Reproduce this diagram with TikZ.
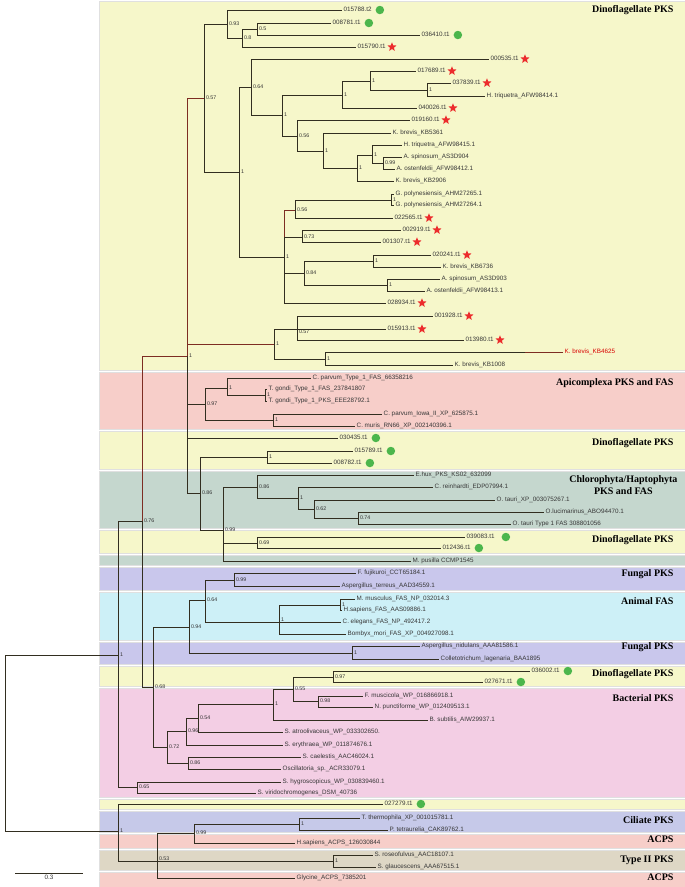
\documentclass[tikz,border=0pt]{standalone}
\usepackage{fontspec}
\setmainfont{Liberation Serif}
\setsansfont{Liberation Sans}
\usetikzlibrary{positioning, shapes.geometric}

\definecolor{dinoyel}{RGB}{246,247,202}
\definecolor{apisalmon}{RGB}{247,206,201}
\definecolor{chlgreen}{RGB}{197,215,206}
\definecolor{funglav}{RGB}{201,199,236}
\definecolor{animcyan}{RGB}{205,240,247}
\definecolor{bactpink}{RGB}{243,206,228}
\definecolor{cilblue}{RGB}{198,201,233}
\definecolor{typebeige}{RGB}{222,215,197}
\definecolor{branch}{RGB}{50,46,32}
\definecolor{redbranch}{RGB}{125,45,35}
\definecolor{dotgreen}{RGB}{76,182,76}
\definecolor{starred}{RGB}{236,44,44}
\definecolor{labelgray}{RGB}{55,55,55}

\begin{document}
\begin{tikzpicture}[x=1pt, y=-1pt,
  band/.style={draw=black!12, line width=0.4pt},
  br/.style={draw=branch, line width=0.8pt},
  hl/.style={draw=redbranch},
  elbow/.style={to path={|- (\tikztotarget)}},
  leaf/.style={anchor=west, inner xsep=1.5pt, inner ysep=0.5pt, text=labelgray,
               text height=4.7pt, text depth=0.8pt, font=\sffamily\fontsize{6.3}{7}\selectfont},
  bs/.style={anchor=west, inner xsep=1.8pt, inner ysep=0.5pt, text=black!80,
             font=\sffamily\fontsize{5.3}{6}\selectfont},
  clade/.style={anchor=east, align=center, font=\bfseries\fontsize{10}{12}\selectfont},
  gdot/.style={circle, fill=dotgreen, inner sep=0pt, minimum size=8.5pt},
  rstar/.style={star, star points=5, star point ratio=2.3, fill=starred,
                inner sep=0pt, minimum size=9.5pt}
]
  \useasboundingbox (0,0) rectangle (685,887);

  % Coloured bands
  \fill[dinoyel, band]   (99,1)   rectangle (685,370);
  \fill[apisalmon, band] (99,372) rectangle (685,429);
  \fill[dinoyel, band]   (99,431) rectangle (685,469);
  \fill[chlgreen, band]  (99,471) rectangle (685,528);
  \fill[dinoyel, band]   (99,530) rectangle (685,553);
  \fill[chlgreen, band]  (99,555) rectangle (685,565);
  \fill[funglav, band]   (99,567) rectangle (685,590);
  \fill[animcyan, band]  (99,592) rectangle (685,640);
  \fill[funglav, band]   (99,642) rectangle (685,664);
  \fill[dinoyel, band]   (99,666) rectangle (685,686);
  \fill[bactpink, band]  (99,688) rectangle (685,797);
  \fill[dinoyel, band]   (99,799) rectangle (685,809);
  \fill[cilblue, band]   (99,811) rectangle (685,832);
  \fill[apisalmon, band] (99,834) rectangle (685,848);
  \fill[typebeige, band] (99,850) rectangle (685,870);
  \fill[apisalmon, band] (99,872) rectangle (685,887);

  % Band titles
  \node[clade] (t1)  at (677,10)  {Dinoflagellate PKS};
  \node[clade] (t2)  at (677,383) {Apicomplexa PKS and FAS};
  \node[clade] (t3)  at (677,443) {Dinoflagellate PKS};
  \node[clade] (t4)  at (681,485) {Chlorophyta/Haptophyta\\PKS and FAS};
  \node[clade] (t5)  at (677,540) {Dinoflagellate PKS};
  \node[clade] (t6)  at (677,574) {Fungal PKS};
  \node[clade] (t7)  at (677,601) {Animal FAS};
  \node[clade] (t8)  at (677,647) {Fungal PKS};
  \node[clade] (t9)  at (677,674) {Dinoflagellate PKS};
  \node[clade] (t10) at (677,698) {Bacterial PKS};
  \node[clade] (t11) at (677,820) {Ciliate PKS};
  \node[clade] (t12) at (677,839) {ACPS};
  \node[clade] (t13) at (677,860) {Type II PKS};
  \node[clade] (t14) at (677,877) {ACPS};

  % Internal nodes with support values
  \coordinate (root) at (5,743);
  \foreach \n/\x/\y/\v in {
      n1/227/24/0.93, n2/242/38/0.8, n3/257/29/0.5, n4/204/98/0.57,
      n5/239/172/1, n6/251/87/0.64, n7/282/115/1, n8/342/95/1, n9/370/81/1,
      n9b/427/90/1, n10/297/136/0.56, n11/323/151/1, n12/357/168/1,
      n12a/372/155/1, n12b/383/163/0.99, n13/284/257/1, n14/295/210/0.56,
      ngp/391/200/1, n15/302/237/0.73, n16/304/273/0.84, n16a/373/261/1,
      n16b/387/285/1, n17/187/356/1, n18/274/344/1, n19b/325/359/1,
      n20/205/404/0.97, n21/227/388/1, ntg/265/395/1, n22/273/420/1,
      n24/200/493/0.86, n25/267/457/1, n26/223/530/0.99, n27/257/487/0.86,
      n28/298/498/1, n29/314/509/0.62, n30/358/518/0.74, n31/257/543/0.69,
      n32/142/521/0.76, n33/153/687/0.68, n34/189/627/0.94, n35/205/600/0.64,
      n36/234/580/0.99, nmm/340/605/1, n38/352/653/1, n41/167/747/0.72,
      n42/186/731/0.96, n43/198/718/0.54, n44/273/704/1, n45/293/689/0.55,
      n46/333/677/0.97, nfm/318/701/0.98, n47/188/763/0.86, n48/118/655/1,
      n49/137/787/0.65, n50/118/831/1, n52/194/833/0.99, n53/299/824/1,
      n54/333/861/1}
    {\coordinate (\n) at (\x,\y); \node[bs] (b\n) at (\n) {\v};}
  \coordinate (n19) at (297,329);
  \node[bs, anchor=north west] (bn19) at (n19) {0.57};
  \coordinate (n37) at (279,622);
  \node[bs, anchor=south west] (bn37) at (n37) {1};
  \coordinate (n51) at (157,861);
  \node[bs, anchor=south west] (bn51) at (n51) {0.53};

  % Leaves: Dinoflagellate PKS
  \node[leaf] (L1)  at (342,10)  {015788.t2};
  \node[leaf] (L2)  at (331,23)  {008781.t1};
  \node[leaf] (L3)  at (420,35)  {036410.t1};
  \node[leaf] (L4)  at (356,47)  {015790.t1};
  \node[leaf] (L5)  at (489,59)  {000535.t1};
  \node[leaf] (L6)  at (416,71)  {017689.t1};
  \node[leaf] (L7)  at (451,83)  {037839.t1};
  \node[leaf] (L8)  at (485,96)  {H. triquetra\_AFW98414.1};
  \node[leaf] (L9)  at (417,108) {040026.t1};
  \node[leaf] (L10) at (410,120) {019160.t1};
  \node[leaf] (L11) at (391,133) {K. brevis\_KB5361};
  \node[leaf] (L12) at (402,145) {H. triquetra\_AFW98415.1};
  \node[leaf] (L13) at (402,157) {A. spinosum\_AS3D904};
  \node[leaf] (L14) at (395,169) {A. ostenfeldii\_AFW98412.1};
  \node[leaf] (L15) at (394,181) {K. brevis\_KB2906};
  \node[leaf] (L16) at (394,194) {G. polynesiensis\_AHM27265.1};
  \node[leaf] (L17) at (394,205) {G. polynesiensis\_AHM27264.1};
  \node[leaf] (L18) at (393,218) {022565.t1};
  \node[leaf] (L19) at (401,230) {002919.t1};
  \node[leaf] (L20) at (381,242) {001307.t1};
  \node[leaf] (L21) at (431,255) {020241.t1};
  \node[leaf] (L22) at (441,267) {K. brevis\_KB6736};
  \node[leaf] (L23) at (440,279) {A. spinosum\_AS3D903};
  \node[leaf] (L24) at (425,291) {A. ostenfeldii\_AFW98413.1};
  \node[leaf] (L25) at (386,303) {028934.t1};
  \node[leaf] (L26) at (433,316) {001928.t1};
  \node[leaf] (L27) at (386,329) {015913.t1};
  \node[leaf] (L28) at (464,340) {013980.t1};
  \node[leaf, text=red!85!black] (L29) at (563,352) {K. brevis\_KB4625};
  \node[leaf] (L30) at (453,365) {K. brevis\_KB1008};
  % Apicomplexa
  \node[leaf] (L31) at (311,378) {C. parvum\_Type\_1\_FAS\_66358216};
  \node[leaf] (L32) at (267,389) {T. gondi\_Type\_1\_FAS\_237841807};
  \node[leaf] (L33) at (267,401) {T. gondi\_Type\_1\_PKS\_EEE28792.1};
  \node[leaf] (L34) at (382,414) {C. parvum\_Iowa\_II\_XP\_625875.1};
  \node[leaf] (L35) at (355,426) {C. muris\_RN66\_XP\_002140396.1};
  % Dinoflagellate
  \node[leaf] (L36) at (338,438) {030435.t1};
  \node[leaf] (L37) at (353,451) {015789.t1};
  \node[leaf] (L38) at (332,463) {008782.t1};
  % Chlorophyta/Haptophyta
  \node[leaf] (L39) at (414,475) {E.hux\_PKS\_KS02\_632099};
  \node[leaf] (L40) at (433,487) {C. reinhardti\_EDP07994.1};
  \node[leaf] (L41) at (495,500) {O. tauri\_XP\_003075267.1};
  \node[leaf] (L42) at (544,512) {O.lucimarinus\_ABO94470.1};
  \node[leaf] (L43) at (511,524) {O. tauri Type 1 FAS 308801056};
  \node[leaf] (L44) at (465,537) {039083.t1};
  \node[leaf] (L45) at (441,548) {012436.t1};
  \node[leaf] (L46) at (411,561) {M. pusilla CCMP1545};
  % Fungal and animal
  \node[leaf] (L47) at (356,573) {F. fujikuroi\_CCT65184.1};
  \node[leaf] (L48) at (340,586) {Aspergillus\_terreus\_AAD34559.1};
  \node[leaf] (L49) at (355,599) {M. musculus\_FAS\_NP\_032014.3};
  \node[leaf] (L50) at (342,610) {H.sapiens\_FAS\_AAS09886.1};
  \node[leaf] (L51) at (341,622) {C. elegans\_FAS\_NP\_492417.2};
  \node[leaf] (L52) at (346,634) {Bombyx\_mori\_FAS\_XP\_004927098.1};
  \node[leaf] (L53) at (420,646) {Aspergillus\_nidulans\_AAA81586.1};
  \node[leaf] (L54) at (439,659) {Colletotrichum\_lagenaria\_BAA1895};
  % Dinoflagellate and bacterial
  \node[leaf] (L55) at (530,671) {036002.t1};
  \node[leaf] (L56) at (483,682) {027671.t1};
  \node[leaf] (L57) at (363,696) {F. muscicola\_WP\_016866918.1};
  \node[leaf] (L58) at (373,707) {N. punctiforme\_WP\_012409513.1};
  \node[leaf] (L59) at (428,720) {B. subtilis\_AIW29937.1};
  \node[leaf] (L60) at (283,732) {S. atroolivaceus\_WP\_033302650.};
  \node[leaf] (L61) at (283,745) {S. erythraea\_WP\_011874676.1};
  \node[leaf] (L62) at (301,757) {S. caelestis\_AAC46024.1};
  \node[leaf] (L63) at (281,769) {Oscillatoria\_sp.\_ACR33079.1};
  \node[leaf] (L64) at (281,782) {S. hygroscopicus\_WP\_030839460.1};
  \node[leaf] (L65) at (256,793) {S. viridochromogenes\_DSM\_40736};
  % Outgroups
  \node[leaf] (L66) at (383,804) {027279.t1};
  \node[leaf] (L67) at (360,818) {T. thermophila\_XP\_001015781.1};
  \node[leaf] (L68) at (388,830) {P. tetraurelia\_CAK89762.1};
  \node[leaf] (L69) at (295,843) {H.sapiens\_ACPS\_126030844};
  \node[leaf] (L70) at (373,855) {S. roseofulvus\_AAC18107.1};
  \node[leaf] (L71) at (376,867) {S. glaucescens\_AAA67515.1};
  \node[leaf] (L72) at (295,878) {Glycine\_ACPS\_7385201};

  % Markers
  \node[gdot, right=2pt of L1] (m1) {};
  \node[gdot, right=2pt of L2] (m2) {};
  \node[gdot, right=2pt of L3] (m3) {};
  \node[rstar, right=1.5pt of L4] (m4) {};
  \node[rstar, right=1.5pt of L5] (m5) {};
  \node[rstar, right=1.5pt of L6] (m6) {};
  \node[rstar, right=1.5pt of L7] (m7) {};
  \node[rstar, right=1.5pt of L9] (m9) {};
  \node[rstar, right=1.5pt of L10] (m10) {};
  \node[rstar, right=1.5pt of L18] (m18) {};
  \node[rstar, right=1.5pt of L19] (m19) {};
  \node[rstar, right=1.5pt of L20] (m20) {};
  \node[rstar, right=1.5pt of L21] (m21) {};
  \node[rstar, right=1.5pt of L25] (m25) {};
  \node[rstar, right=1.5pt of L26] (m26) {};
  \node[rstar, right=1.5pt of L27] (m27) {};
  \node[rstar, right=1.5pt of L28] (m28) {};
  \node[gdot, right=2pt of L36] (m36) {};
  \node[gdot, right=2pt of L37] (m37) {};
  \node[gdot, right=2pt of L38] (m38) {};
  \node[gdot, right=5pt of L44] (m44) {};
  \node[gdot, right=2pt of L45] (m45) {};
  \node[gdot, right=2pt of L55] (m55) {};
  \node[gdot, right=2pt of L56] (m56) {};
  \node[gdot, right=2pt of L66] (m66) {};

  % Branches
  \draw[br] (root) edge[elbow] (n48) edge[elbow] (n50);
  \draw[br] (n48) edge[elbow] (n32) edge[elbow] (n49);
  \draw[br] (n32) edge[elbow, hl] (n17) edge[elbow] (n33);
  \draw[br] (n17) edge[elbow, hl] (n4) edge[elbow, hl] (n18) edge[elbow] (n20)
                  edge[elbow] (L36.west) edge[elbow] (n24);
  \draw[br] (n4) edge[elbow] (n1) edge[elbow] (n5);
  \draw[br] (n1) edge[elbow] (L1.west) edge[elbow] (n2);
  \draw[br] (n2) edge[elbow] (n3) edge[elbow] (L4.west);
  \draw[br] (n3) edge[elbow] (L2.west) edge[elbow] (L3.west);
  \draw[br] (n5) edge[elbow] (n6) edge[elbow] (n13);
  \draw[br] (n6) edge[elbow] (L5.west) edge[elbow] (n7);
  \draw[br] (n7) edge[elbow] (n8) edge[elbow] (n10);
  \draw[br] (n8) edge[elbow] (n9) edge[elbow] (L9.west);
  \draw[br] (n9) edge[elbow] (L6.west) edge[elbow] (n9b);
  \draw[br] (n9b) edge[elbow] (L7.west) edge[elbow] (L8.west);
  \draw[br] (n10) edge[elbow] (L10.west) edge[elbow] (n11);
  \draw[br] (n11) edge[elbow] (L11.west) edge[elbow] (n12);
  \draw[br] (n12) edge[elbow] (n12a) edge[elbow] (L15.west);
  \draw[br] (n12a) edge[elbow] (L12.west) edge[elbow] (n12b);
  \draw[br] (n12b) edge[elbow] (L13.west) edge[elbow] (L14.west);
  \draw[br] (n13) edge[elbow, hl] (n14) edge[elbow] (n15) edge[elbow] (n16)
                  edge[elbow] (L25.west);
  \draw[br] (n14) edge[elbow] (ngp) edge[elbow] (L18.west);
  \draw[br] (ngp) edge[elbow] (L16.west) edge[elbow] (L17.west);
  \draw[br] (n15) edge[elbow] (L19.west) edge[elbow] (L20.west);
  \draw[br] (n16) edge[elbow] (n16a) edge[elbow] (n16b);
  \draw[br] (n16a) edge[elbow] (L21.west) edge[elbow] (L22.west);
  \draw[br] (n16b) edge[elbow] (L23.west) edge[elbow] (L24.west);
  \draw[br] (n18) edge[elbow] (n19) edge[elbow] (n19b);
  \draw[br] (n19) edge[elbow] (L26.west) edge[elbow] (L27.west) edge[elbow] (L28.west);
  \draw[br] (n19b) edge[elbow] (L29.west) edge[elbow] (L30.west);
  \draw[br, hl] (L29.west) -- ++(-38,0);
  \draw[br] (n20) edge[elbow] (n21) edge[elbow] (n22);
  \draw[br] (n21) edge[elbow] (L31.west) edge[elbow] (ntg);
  \draw[br] (ntg) edge[elbow] (L32.west) edge[elbow] (L33.west);
  \draw[br] (n22) edge[elbow] (L34.west) edge[elbow] (L35.west);
  \draw[br] (n24) edge[elbow] (n25) edge[elbow] (n26);
  \draw[br] (n25) edge[elbow] (L37.west) edge[elbow] (L38.west);
  \draw[br] (n26) edge[elbow] (n27) edge[elbow] (n31) edge[elbow] (L46.west);
  \draw[br] (n27) edge[elbow] (L39.west) edge[elbow] (n28);
  \draw[br] (n28) edge[elbow] (L40.west) edge[elbow] (n29);
  \draw[br] (n29) edge[elbow] (L41.west) edge[elbow] (n30);
  \draw[br] (n30) edge[elbow] (L42.west) edge[elbow] (L43.west);
  \draw[br] (n31) edge[elbow] (L44.west) edge[elbow] (L45.west);
  \draw[br] (n33) edge[elbow] (n34) edge[elbow] (n41);
  \draw[br] (n34) edge[elbow] (n35) edge[elbow] (n38);
  \draw[br] (n35) edge[elbow] (n36) edge[elbow] (n37);
  \draw[br] (n36) edge[elbow] (L47.west) edge[elbow] (L48.west);
  \draw[br] (n37) edge[elbow] (nmm) edge[elbow] (L51.west) edge[elbow] (L52.west);
  \draw[br] (nmm) edge[elbow] (L49.west) edge[elbow] (L50.west);
  \draw[br] (n38) edge[elbow] (L53.west) edge[elbow] (L54.west);
  \draw[br] (n41) edge[elbow] (n42) edge[elbow] (n47);
  \draw[br] (n42) edge[elbow] (n43) edge[elbow] (L61.west);
  \draw[br] (n43) edge[elbow] (n44) edge[elbow] (L60.west);
  \draw[br] (n44) edge[elbow] (n45) edge[elbow] (L59.west);
  \draw[br] (n45) edge[elbow] (n46) edge[elbow] (nfm);
  \draw[br] (n46) edge[elbow] (L55.west) edge[elbow] (L56.west);
  \draw[br] (nfm) edge[elbow] (L57.west) edge[elbow] (L58.west);
  \draw[br] (n47) edge[elbow] (L62.west) edge[elbow] (L63.west);
  \draw[br] (n49) edge[elbow] (L64.west) edge[elbow] (L65.west);
  \draw[br] (n50) edge[elbow] (L66.west) edge[elbow] (n51);
  \draw[br] (n51) edge[elbow] (n52) edge[elbow] (n54) edge[elbow] (L72.west);
  \draw[br] (n52) edge[elbow] (n53) edge[elbow] (L69.west);
  \draw[br] (n53) edge[elbow] (L67.west) edge[elbow] (L68.west);
  \draw[br] (n54) edge[elbow] (L70.west) edge[elbow] (L71.west);

  % Scale bar
  \coordinate (sbl) at (15,873);
  \coordinate (sbr) at (83,873);
  \draw[br] (sbl) -- (sbr) node[midway, below=1pt, leaf, anchor=north] (sbt) {0.3};
\end{tikzpicture}
\end{document}
